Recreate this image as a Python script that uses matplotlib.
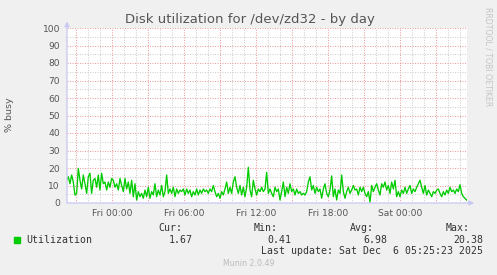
import numpy as np
import matplotlib
matplotlib.use("Agg")
import matplotlib.pyplot as plt
from matplotlib.patches import Rectangle

# disk busy %, one sample every ~8.3 minutes
busy = [
    13, 15, 11, 16, 12, 4.5, 5.5, 19.8, 13, 8, 16, 11, 5.5, 15, 17, 5.5,
    13, 14, 9, 16, 7.4, 17, 11, 12, 7.4, 12, 9, 14, 13, 9, 11, 7.4, 14, 10,
    6.5, 14, 8, 12, 5.5, 13, 3.6, 11, 1.7, 6.5, 3.6, 5.5, 2.7, 7.4, 3.6, 9,
    2.7, 6.5, 4.6, 11, 3.6, 7.4, 4.6, 10, 3.6, 6.5, 16, 5.5, 8,
    5.5, 9, 3.6, 8, 5.5, 7.4, 6.5, 8, 4.6, 8, 5.5, 7.4, 3.6, 6.5, 4.6, 8,
    4.6, 7.4, 5.5, 8, 6.5, 7.4, 5.5, 8, 6.5, 10, 6.5, 3.6, 5.5, 2.7, 6.5,
    4.6, 8, 12, 5.5, 9, 5.5, 12, 15, 9, 5.5, 10, 4.6, 9, 3.6, 9, 20.38, 7.4,
    3.6, 13, 8, 4.6, 8, 6.5, 9, 6.5, 8, 17.5, 5.5, 8,
    5.5, 3.6, 9, 6.5, 8, 1.7, 6.5, 12, 3.6, 9, 5.5, 11, 6.5, 8, 4.6, 8, 5.5,
    6.5, 4.6, 5.5, 4.6, 6.5, 12, 15, 7.4, 10, 5.5, 9, 6.5, 8, 2.7, 8, 11,
    5.5, 3.6, 7.4, 15.5, 3.6, 8, 1.7, 7.4, 5.5, 16, 6.5, 2.7, 6.5, 9, 5.5,
    7.4, 10, 7.4, 8, 4.6, 9, 6.5, 9, 5.5, 3.6, 6.5, 0.41,
    10, 6.5, 9, 11, 7.4, 4.6, 11, 9, 12, 7.4, 10, 5.5, 12, 8, 13, 3.6, 6.5,
    3.6, 7.4, 5.5, 9, 5.5, 8, 10, 5.5, 8, 6.5, 9, 11, 13, 9, 5.5, 10, 4.6,
    7.4, 5.5, 3.6, 6.5, 5.5, 7.4, 8, 5.5, 3.6, 6.5, 4.6, 7.4, 5.5, 9, 6.5,
    7.4, 5.5, 8, 6.5, 10.5, 5.5, 3.6, 2.7, 1.67,
]
first_hour = -3.78          # hours relative to Fri 00:00
step_hours = 1 / 7.2

tick_hours = [0, 6, 12, 18, 24]
tick_labels = ["Fri 00:00", "Fri 06:00", "Fri 12:00", "Fri 18:00", "Sat 00:00"]

stat_names = ["Cur:", "Min:", "Avg:", "Max:"]
stat_values = ["1.67", "0.41", "6.98", "20.38"]
last_update = "Last update: Sat Dec  6 05:25:23 2025"

W, H = 497, 275
def fx(px):
    return px / W
def fy(py):
    return 1 - py / H

fig = plt.figure(figsize=(W / 100, H / 100), dpi=100, facecolor="#f0f0f0")
ax = fig.add_axes([fx(67), fy(203), 400 / W, 175 / H])
ax.set_facecolor("white")
ax.set_xlim(-3.75, 29.58)
ax.set_ylim(0, 100)
for s in ax.spines.values():
    s.set_visible(False)

red = "#eaa0a0"
grey = "#cfcfcf"
dots = (0, (1, 1.4))
for h in range(-3, 30):
    ax.axvline(h, color=red if h % 3 == 0 else grey, lw=0.75, ls=dots, zorder=0)
for v in range(5, 101, 5):
    ax.axhline(v, color=red if v % 10 == 0 else grey, lw=0.75, ls=dots, zorder=0)

hours = first_hour + np.arange(len(busy)) * step_hours
ax.plot(hours, busy, color="#00cc00", lw=0.95, zorder=3)

ax.set_xticks(tick_hours)
ax.set_xticklabels(tick_labels)
ax.set_yticks(range(0, 101, 10))
ax.tick_params(axis="both", length=0, labelsize=6.6, labelcolor="#555555")
ax.tick_params(axis="x", pad=4)
ax.tick_params(axis="y", pad=5)

axis_col = "#c8c8f4"
ax.annotate("", xy=(0, 1.037), xytext=(0, 0), xycoords="axes fraction",
            arrowprops=dict(arrowstyle="-|>", color=axis_col, lw=0.9,
                            mutation_scale=7, shrinkA=0, shrinkB=0))
ax.annotate("", xy=(1.018, 0), xytext=(0, 0), xycoords="axes fraction",
            arrowprops=dict(arrowstyle="-|>", color=axis_col, lw=0.9,
                            mutation_scale=7, shrinkA=0, shrinkB=0))

fig.text(fx(250), fy(19), "Disk utilization for /dev/zd32 - by day",
         ha="center", va="center", fontsize=9.5, color="#555555")
fig.text(fx(10), fy(115), "% busy", rotation=90, ha="center", va="center",
         fontsize=6.8, color="#555555")
fig.text(fx(488), fy(57), "RRDTOOL / TOBI OETIKER", rotation=270,
         ha="center", va="center", fontsize=5.6, color="#c4c4c4")

# legend block
mono = dict(family="DejaVu Sans Mono", fontsize=7.1, color="#333333", va="center")
fig.patches.append(Rectangle((fx(14), fy(242.5)), 6 / W, 6 / H,
                             transform=fig.transFigure, color="#00cc00"))
fig.text(fx(26), fy(240), "Utilization", ha="left", **mono)
name_right = [182, 278, 374, 470]
value_right = [193, 291, 387, 483]
for name, x in zip(stat_names, name_right):
    fig.text(fx(x), fy(228), name, ha="right", **mono)
for val, x in zip(stat_values, value_right):
    fig.text(fx(x), fy(240), val, ha="right", **mono)
fig.text(fx(483), fy(251.5), last_update, ha="right", **mono)
fig.text(fx(249), fy(264), "Munin 2.0.49", ha="center", va="center",
         fontsize=5.7, color="#bbbbbb")

fig.savefig("out.png", dpi=100, facecolor=fig.get_facecolor())
